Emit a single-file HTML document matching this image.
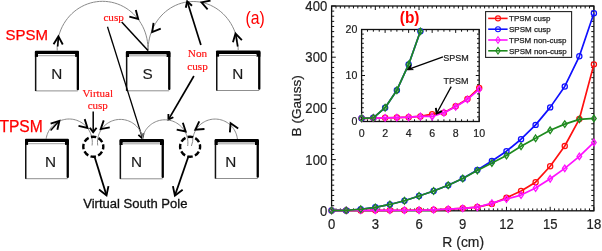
<!DOCTYPE html>
<html><head><meta charset="utf-8"><title>SPSM TPSM figure</title>
<style>html,body{margin:0;padding:0;background:#fff;overflow:hidden}svg{display:block}</style>
</head><body>
<svg width="602" height="251" viewBox="0 0 602 251">
<rect width="602" height="251" fill="#fff"/>
<rect x="34.9" y="50.8" width="44.1" height="40.6" fill="#fff" stroke="none"/>
<line x1="35.5" y1="90.9" x2="77.8" y2="90.9" stroke="#8f8f8f" stroke-width="1.0"/>
<rect x="34.9" y="51.8" width="1.5" height="39.2" fill="#111"/>
<rect x="76.7" y="51.8" width="2.3" height="38.4" rx="1" fill="#000"/>
<rect x="34.9" y="50.8" width="44.1" height="3.3" fill="#000" rx="1"/>
<rect x="34.9" y="53.3" width="3.1" height="3.6" fill="#000"/>
<rect x="75.1" y="53.3" width="3.9" height="3.6" fill="#000"/>
<line x1="38" y1="55.7" x2="75.1" y2="55.7" stroke="#a0a0a0" stroke-width="1.0"/>
<text x="56.8" y="79" font-family='"Liberation Sans", Arial, sans-serif' font-size="15.3" fill="#1a1a1a" text-anchor="middle" font-weight="normal" stroke="#1a1a1a" stroke-width="0.15">N</text>
<rect x="125.9" y="50.9" width="44.5" height="40.4" fill="#fff" stroke="none"/>
<line x1="126.5" y1="90.8" x2="169.2" y2="90.8" stroke="#8f8f8f" stroke-width="1.0"/>
<rect x="125.9" y="51.9" width="1.5" height="39" fill="#111"/>
<rect x="168.1" y="51.9" width="2.3" height="38.2" rx="1" fill="#000"/>
<rect x="125.9" y="50.9" width="44.5" height="3.3" fill="#000" rx="1"/>
<rect x="125.9" y="53.4" width="3.1" height="3.6" fill="#000"/>
<rect x="166.5" y="53.4" width="3.9" height="3.6" fill="#000"/>
<line x1="129" y1="55.8" x2="166.5" y2="55.8" stroke="#a0a0a0" stroke-width="1.0"/>
<text x="147.6" y="79.1" font-family='"Liberation Sans", Arial, sans-serif' font-size="15.3" fill="#1a1a1a" text-anchor="middle" font-weight="normal" stroke="#1a1a1a" stroke-width="0.15">S</text>
<rect x="216" y="50.6" width="44.4" height="40.4" fill="#fff" stroke="none"/>
<line x1="216.6" y1="90.5" x2="259.2" y2="90.5" stroke="#8f8f8f" stroke-width="1.0"/>
<rect x="216" y="51.6" width="1.5" height="39" fill="#111"/>
<rect x="258.1" y="51.6" width="2.3" height="38.2" rx="1" fill="#000"/>
<rect x="216" y="50.6" width="44.4" height="3.3" fill="#000" rx="1"/>
<rect x="216" y="53.1" width="3.1" height="3.6" fill="#000"/>
<rect x="256.5" y="53.1" width="3.9" height="3.6" fill="#000"/>
<line x1="219.1" y1="55.5" x2="256.5" y2="55.5" stroke="#a0a0a0" stroke-width="1.0"/>
<text x="237.9" y="78.8" font-family='"Liberation Sans", Arial, sans-serif' font-size="15.3" fill="#1a1a1a" text-anchor="middle" font-weight="normal" stroke="#1a1a1a" stroke-width="0.15">N</text>
<rect x="25" y="138.8" width="43.9" height="40.4" fill="#fff" stroke="none"/>
<line x1="25.6" y1="178.7" x2="67.7" y2="178.7" stroke="#8f8f8f" stroke-width="1.0"/>
<rect x="25" y="139.8" width="1.5" height="39" fill="#111"/>
<rect x="66.6" y="139.8" width="2.3" height="38.2" rx="1" fill="#000"/>
<rect x="25" y="138.8" width="43.9" height="3.3" fill="#000" rx="1"/>
<rect x="25" y="141.3" width="3.1" height="3.6" fill="#000"/>
<rect x="65" y="141.3" width="3.9" height="3.6" fill="#000"/>
<line x1="28.1" y1="143.7" x2="65" y2="143.7" stroke="#a0a0a0" stroke-width="1.0"/>
<text x="50.5" y="167" font-family='"Liberation Sans", Arial, sans-serif' font-size="15.3" fill="#1a1a1a" text-anchor="middle" font-weight="normal" stroke="#1a1a1a" stroke-width="0.15">N</text>
<rect x="119.6" y="138.9" width="44.3" height="40.4" fill="#fff" stroke="none"/>
<line x1="120.2" y1="178.8" x2="162.7" y2="178.8" stroke="#8f8f8f" stroke-width="1.0"/>
<rect x="119.6" y="139.9" width="1.5" height="39" fill="#111"/>
<rect x="161.6" y="139.9" width="2.3" height="38.2" rx="1" fill="#000"/>
<rect x="119.6" y="138.9" width="44.3" height="3.3" fill="#000" rx="1"/>
<rect x="119.6" y="141.4" width="3.1" height="3.6" fill="#000"/>
<rect x="160" y="141.4" width="3.9" height="3.6" fill="#000"/>
<line x1="122.7" y1="143.8" x2="160" y2="143.8" stroke="#a0a0a0" stroke-width="1.0"/>
<text x="136.6" y="167.1" font-family='"Liberation Sans", Arial, sans-serif' font-size="15.3" fill="#1a1a1a" text-anchor="middle" font-weight="normal" stroke="#1a1a1a" stroke-width="0.15">N</text>
<rect x="214.7" y="138.9" width="44.2" height="40.1" fill="#fff" stroke="none"/>
<line x1="215.3" y1="178.5" x2="257.7" y2="178.5" stroke="#8f8f8f" stroke-width="1.0"/>
<rect x="214.7" y="139.9" width="1.5" height="38.7" fill="#111"/>
<rect x="256.6" y="139.9" width="2.3" height="37.9" rx="1" fill="#000"/>
<rect x="214.7" y="138.9" width="44.2" height="3.3" fill="#000" rx="1"/>
<rect x="214.7" y="141.4" width="3.1" height="3.6" fill="#000"/>
<rect x="255" y="141.4" width="3.9" height="3.6" fill="#000"/>
<line x1="217.8" y1="143.8" x2="255" y2="143.8" stroke="#a0a0a0" stroke-width="1.0"/>
<text x="230.9" y="167.1" font-family='"Liberation Sans", Arial, sans-serif' font-size="15.3" fill="#1a1a1a" text-anchor="middle" font-weight="normal" stroke="#1a1a1a" stroke-width="0.15">N</text>
<path d="M57.23,50.82 L57.16,47.64 L57.31,44.47 L57.66,41.31 L58.22,38.18 L58.98,35.1 L59.94,32.08 L61.1,29.14 L62.44,26.28 L63.97,23.52 L65.68,20.88 L67.55,18.36 L69.59,15.98 L71.78,13.74 L74.1,11.67 L76.56,9.76 L79.14,8.03 L81.82,6.49 L84.6,5.13 L87.46,3.98 L90.39,3.02 L93.37,2.28 L96.4,1.74 L99.45,1.42 L102.52,1.31 L105.59,1.42 L108.64,1.74 L111.67,2.28 L114.65,3.02 L117.58,3.98 L120.44,5.13 L123.22,6.49 L125.9,8.03 L128.48,9.76 L130.94,11.67 L133.26,13.74 L135.45,15.98 L137.49,18.36 L139.36,20.88 L141.07,23.52 L142.6,26.28 L143.94,29.14 L145.1,32.08 L146.06,35.1 L146.82,38.18 L147.38,41.31 L147.73,44.47 L147.88,47.64 L147.81,50.82" fill="none" stroke="#8a8a8a" stroke-width="1"/>
<path d="M148.11,50.81 L148.16,47.6 L148.41,44.41 L148.85,41.24 L149.49,38.1 L150.31,35.02 L151.33,32 L152.53,29.07 L153.9,26.22 L155.45,23.48 L157.16,20.85 L159.03,18.36 L161.05,16 L163.2,13.79 L165.49,11.73 L167.9,9.85 L170.42,8.14 L173.04,6.61 L175.75,5.28 L178.53,4.14 L181.38,3.2 L184.27,2.46 L187.21,1.93 L190.17,1.62 L193.15,1.51 L196.13,1.62 L199.09,1.93 L202.03,2.46 L204.92,3.2 L207.77,4.14 L210.55,5.28 L213.26,6.61 L215.88,8.14 L218.4,9.85 L220.81,11.73 L223.1,13.79 L225.25,16 L227.27,18.36 L229.14,20.85 L230.85,23.48 L232.4,26.22 L233.77,29.07 L234.97,32 L235.99,35.02 L236.81,38.1 L237.45,41.24 L237.89,44.41 L238.14,47.6 L238.19,50.81" fill="none" stroke="#8a8a8a" stroke-width="1"/>
<line x1="57.7" y1="46.5" x2="58.4" y2="37.5" stroke="#000" stroke-width="1.6"/>
<line x1="237.7" y1="46.5" x2="235.8" y2="35" stroke="#000" stroke-width="1.6"/>
<path d="M53.56,44.23 L58.4,36.4 L62.76,44.5" fill="none" stroke="#000" stroke-width="1.85" stroke-linejoin="miter" stroke-linecap="butt"/>
<path d="M135.82,10.01 L138.2,18.9 L129.31,16.52" fill="none" stroke="#000" stroke-width="1.85" stroke-linejoin="miter" stroke-linecap="butt"/>
<path d="M160.75,28.6 L152.2,32 L153.53,22.9" fill="none" stroke="#000" stroke-width="1.85" stroke-linejoin="miter" stroke-linecap="butt"/>
<path d="M207.61,9.28 L201.5,2.4 L210.51,0.55" fill="none" stroke="#000" stroke-width="1.85" stroke-linejoin="miter" stroke-linecap="butt"/>
<path d="M232.95,42.34 L235.5,33.5 L241.88,40.13" fill="none" stroke="#000" stroke-width="1.85" stroke-linejoin="miter" stroke-linecap="butt"/>
<text x="103.4" y="20.6" font-family='"Liberation Serif", "Times New Roman", serif' font-size="11.2" fill="#ff1010" text-anchor="start" font-weight="normal" stroke="#ff1010" stroke-width="0.15">cusp</text>
<line x1="121.7" y1="21.9" x2="148" y2="50.4" stroke="#000" stroke-width="1.5"/>
<line x1="107.5" y1="26.8" x2="142.3" y2="137.6" stroke="#000" stroke-width="1.3"/>
<path d="M143.62,133.27 L142.3,138.3 L138.36,134.91" fill="none" stroke="#000" stroke-width="1.8" stroke-linejoin="miter" stroke-linecap="butt"/>
<text x="197.5" y="57" font-family='"Liberation Serif", "Times New Roman", serif' font-size="11.2" fill="#ff1010" text-anchor="middle" font-weight="normal" stroke="#ff1010" stroke-width="0.15">Non</text>
<text x="197.5" y="70.2" font-family='"Liberation Serif", "Times New Roman", serif' font-size="11.2" fill="#ff1010" text-anchor="middle" font-weight="normal" stroke="#ff1010" stroke-width="0.15">cusp</text>
<line x1="200.9" y1="45" x2="187.4" y2="2" stroke="#000" stroke-width="1.7"/>
<path d="M185.79,7.74 L187.2,1.4 L191.99,5.79" fill="none" stroke="#000" stroke-width="1.9" stroke-linejoin="miter" stroke-linecap="butt"/>
<line x1="193.9" y1="76" x2="168.6" y2="119.4" stroke="#000" stroke-width="1.7"/>
<path d="M173.35,117.2 L168.4,119.6 L168.41,114.1" fill="none" stroke="#000" stroke-width="1.8" stroke-linejoin="miter" stroke-linecap="butt"/>
<text x="5.6" y="39.7" font-family='"Liberation Sans", Arial, sans-serif' font-size="15" fill="#ff0000" text-anchor="start" font-weight="normal" stroke="#ff0000" stroke-width="0.25">SPSM</text>
<text x="-0.6" y="131.5" font-family='"Liberation Sans", Arial, sans-serif' font-size="15.6" fill="#ff0000" text-anchor="start" font-weight="normal" stroke="#ff0000" stroke-width="0.25">TPSM</text>
<text transform="translate(255.1,23.6) scale(0.9,1)" font-family='"Liberation Sans", Arial, sans-serif' font-size="17.5" fill="#ff0000" text-anchor="middle">(a)</text>
<path d="M46.12,139.01 L46.38,137.51 L46.73,136.03 L47.19,134.58 L47.73,133.16 L48.37,131.78 L49.1,130.45 L49.91,129.16 L50.81,127.93 L51.78,126.76 L52.83,125.66 L53.95,124.63 L55.13,123.68 L56.37,122.8 L57.67,122.01 L59.02,121.3 L60.41,120.69 L61.84,120.17 L63.3,119.74 L64.78,119.41 L66.28,119.17 L67.8,119.04 L69.32,119 L70.84,119.07 L72.35,119.23 L73.85,119.49 L75.32,119.85 L76.78,120.31 L78.19,120.86 L79.57,121.5 L80.91,122.23 L82.19,123.04 L83.42,123.94 L84.58,124.92 L85.68,125.97 L86.71,127.09 L87.66,128.28 L88.53,129.52 L89.32,130.82 L90.02,132.17 L90.63,133.57 L91.15,134.99 L91.58,136.45 L91.91,137.94 L92.14,139.44 L92.27,140.96 L92.3,142.48 L92.23,144 L92.06,145.51" fill="none" stroke="#8a8a8a" stroke-width="1"/>
<path d="M97.74,145.49 L97.57,144.01 L97.5,142.52 L97.53,141.02 L97.66,139.53 L97.88,138.06 L98.2,136.6 L98.61,135.16 L99.12,133.76 L99.72,132.39 L100.41,131.06 L101.18,129.78 L102.03,128.56 L102.96,127.39 L103.97,126.29 L105.05,125.25 L106.19,124.29 L107.39,123.41 L108.65,122.6 L109.96,121.88 L111.31,121.25 L112.7,120.7 L114.13,120.25 L115.58,119.89 L117.05,119.63 L118.53,119.47 L120.02,119.4 L121.52,119.43 L123.01,119.56 L124.48,119.79 L125.94,120.11 L127.38,120.53 L128.78,121.04 L130.15,121.64 L131.47,122.32 L132.75,123.1 L133.97,123.96 L135.14,124.89 L136.24,125.9 L137.27,126.98 L138.23,128.12 L139.12,129.33 L139.92,130.59 L140.64,131.89 L141.27,133.25 L141.81,134.64 L142.26,136.07 L142.61,137.52 L142.87,138.99" fill="none" stroke="#8a8a8a" stroke-width="1"/>
<path d="M142.22,139 L142.51,137.54 L142.9,136.1 L143.38,134.69 L143.95,133.31 L144.61,131.97 L145.36,130.68 L146.18,129.43 L147.09,128.25 L148.07,127.12 L149.12,126.06 L150.24,125.08 L151.42,124.16 L152.66,123.33 L153.95,122.58 L155.28,121.91 L156.66,121.33 L158.07,120.84 L159.51,120.44 L160.97,120.14 L162.45,119.93 L163.93,119.82 L165.43,119.81 L166.92,119.89 L168.4,120.07 L169.87,120.34 L171.31,120.71 L172.73,121.17 L174.12,121.73 L175.46,122.37 L176.77,123.1 L178.02,123.91 L179.22,124.8 L180.36,125.77 L181.43,126.8 L182.43,127.91 L183.36,129.08 L184.21,130.3 L184.98,131.58 L185.66,132.91 L186.26,134.28 L186.77,135.68 L187.19,137.11 L187.51,138.57 L187.73,140.05 L187.87,141.53 L187.9,143.03 L187.84,144.52 L187.68,146" fill="none" stroke="#8a8a8a" stroke-width="1"/>
<path d="M191.4,146 L192.65,141.5 L192.69,140.08 L192.83,138.67 L193.05,137.27 L193.36,135.89 L193.76,134.53 L194.24,133.2 L194.81,131.9 L195.45,130.64 L196.18,129.42 L196.98,128.25 L197.85,127.13 L198.79,126.07 L199.79,125.08 L200.86,124.14 L201.98,123.28 L203.16,122.49 L204.38,121.77 L205.65,121.14 L206.95,120.58 L208.29,120.11 L209.65,119.72 L211.03,119.42 L212.44,119.21 L213.85,119.09 L215.26,119.05 L216.68,119.11 L218.09,119.25 L219.49,119.48 L220.87,119.8 L222.22,120.21 L223.55,120.7 L224.85,121.28 L226.1,121.93 L227.32,122.66 L228.48,123.47 L229.59,124.35 L230.64,125.3 L231.63,126.31 L232.56,127.39 L233.41,128.52 L234.2,129.7 L234.9,130.93 L235.53,132.2 L236.08,133.5 L236.54,134.84 L236.92,136.21 L237.21,137.6 L237.41,139" fill="none" stroke="#8a8a8a" stroke-width="1"/>
<line x1="50.6" y1="130.4" x2="58" y2="122.3" stroke="#000" stroke-width="1.5"/>
<path d="M50.62,123.54 L59.4,120.8 L57.38,129.78" fill="none" stroke="#000" stroke-width="1.85" stroke-linejoin="miter" stroke-linecap="butt"/>
<path d="M84.69,119.14 L87.5,127.9 L78.51,125.96" fill="none" stroke="#000" stroke-width="1.85" stroke-linejoin="miter" stroke-linecap="butt"/>
<path d="M109.74,127.38 L100.7,129.1 L103.73,120.41" fill="none" stroke="#000" stroke-width="1.85" stroke-linejoin="miter" stroke-linecap="butt"/>
<path d="M182.84,122.76 L185.7,131.5 L176.7,129.61" fill="none" stroke="#000" stroke-width="1.85" stroke-linejoin="miter" stroke-linecap="butt"/>
<path d="M204.47,128.97 L195.3,129.7 L199.26,121.39" fill="none" stroke="#000" stroke-width="1.85" stroke-linejoin="miter" stroke-linecap="butt"/>
<path d="M229.88,132.37 L230.6,123.2 L238.19,128.41" fill="none" stroke="#000" stroke-width="1.85" stroke-linejoin="miter" stroke-linecap="butt"/>
<text x="97.8" y="96.8" font-family='"Liberation Serif", "Times New Roman", serif' font-size="11" fill="#ff1010" text-anchor="middle" font-weight="normal" stroke="#ff1010" stroke-width="0.15">Virtual</text>
<text x="97.8" y="109.4" font-family='"Liberation Serif", "Times New Roman", serif' font-size="11" fill="#ff1010" text-anchor="middle" font-weight="normal" stroke="#ff1010" stroke-width="0.15">cusp</text>
<line x1="93.2" y1="111.5" x2="93.2" y2="132.2" stroke="#000" stroke-width="1.5"/>
<path d="M96.59,127.77 L93.2,132.1 L89.81,127.77" fill="none" stroke="#000" stroke-width="1.9" stroke-linejoin="miter" stroke-linecap="butt"/>
<circle cx="93.3" cy="146.7" r="10" fill="none" stroke="#000" stroke-width="2.4" stroke-dasharray="5.5 2.35" stroke-dashoffset="2.75"/>
<circle cx="190.1" cy="146.7" r="10" fill="none" stroke="#000" stroke-width="2.4" stroke-dasharray="5.5 2.35" stroke-dashoffset="2.75"/>
<line x1="94.5" y1="156.5" x2="106.4" y2="195" stroke="#000" stroke-width="1.8"/>
<path d="M108.46,186.1 L106.5,195.4 L99,189.57" fill="none" stroke="#000" stroke-width="1.85" stroke-linejoin="miter" stroke-linecap="butt"/>
<line x1="188.4" y1="156.5" x2="175" y2="195.3" stroke="#000" stroke-width="1.8"/>
<path d="M182.65,189.71 L174.9,195.7 L172.91,186.1" fill="none" stroke="#000" stroke-width="1.85" stroke-linejoin="miter" stroke-linecap="butt"/>
<text x="135.3" y="208" font-family='"Liberation Sans", Arial, sans-serif' font-size="13.05" fill="#111" text-anchor="middle" font-weight="normal" stroke="#111" stroke-width="0.3">Virtual South Pole</text>
<rect x="331.6" y="6.0" width="262.3" height="204.8" fill="#fff" stroke="#111" stroke-width="1.3"/>
<path d="M331.6,210.8h4.2M593.9,210.8h-4.2M331.6,205.68h2.6M593.9,205.68h-2.6M331.6,200.56h2.6M593.9,200.56h-2.6M331.6,195.44h2.6M593.9,195.44h-2.6M331.6,190.32h2.6M593.9,190.32h-2.6M331.6,185.2h2.6M593.9,185.2h-2.6M331.6,180.08h2.6M593.9,180.08h-2.6M331.6,174.96h2.6M593.9,174.96h-2.6M331.6,169.84h2.6M593.9,169.84h-2.6M331.6,164.72h2.6M593.9,164.72h-2.6M331.6,159.6h4.2M593.9,159.6h-4.2M331.6,154.48h2.6M593.9,154.48h-2.6M331.6,149.36h2.6M593.9,149.36h-2.6M331.6,144.24h2.6M593.9,144.24h-2.6M331.6,139.12h2.6M593.9,139.12h-2.6M331.6,134h2.6M593.9,134h-2.6M331.6,128.88h2.6M593.9,128.88h-2.6M331.6,123.76h2.6M593.9,123.76h-2.6M331.6,118.64h2.6M593.9,118.64h-2.6M331.6,113.52h2.6M593.9,113.52h-2.6M331.6,108.4h4.2M593.9,108.4h-4.2M331.6,103.28h2.6M593.9,103.28h-2.6M331.6,98.16h2.6M593.9,98.16h-2.6M331.6,93.04h2.6M593.9,93.04h-2.6M331.6,87.92h2.6M593.9,87.92h-2.6M331.6,82.8h2.6M593.9,82.8h-2.6M331.6,77.68h2.6M593.9,77.68h-2.6M331.6,72.56h2.6M593.9,72.56h-2.6M331.6,67.44h2.6M593.9,67.44h-2.6M331.6,62.32h2.6M593.9,62.32h-2.6M331.6,57.2h4.2M593.9,57.2h-4.2M331.6,52.08h2.6M593.9,52.08h-2.6M331.6,46.96h2.6M593.9,46.96h-2.6M331.6,41.84h2.6M593.9,41.84h-2.6M331.6,36.72h2.6M593.9,36.72h-2.6M331.6,31.6h2.6M593.9,31.6h-2.6M331.6,26.48h2.6M593.9,26.48h-2.6M331.6,21.36h2.6M593.9,21.36h-2.6M331.6,16.24h2.6M593.9,16.24h-2.6M331.6,11.12h2.6M593.9,11.12h-2.6M331.6,6h4.2M593.9,6h-4.2M331.6,210.8v-4.0M331.6,6v4.0M335.97,210.8v-2.4M335.97,6v2.4M340.34,210.8v-2.4M340.34,6v2.4M344.72,210.8v-2.4M344.72,6v2.4M349.09,210.8v-2.4M349.09,6v2.4M353.46,210.8v-2.4M353.46,6v2.4M357.83,210.8v-2.4M357.83,6v2.4M362.2,210.8v-2.4M362.2,6v2.4M366.57,210.8v-2.4M366.57,6v2.4M370.94,210.8v-2.4M370.94,6v2.4M375.32,210.8v-4.0M375.32,6v4.0M379.69,210.8v-2.4M379.69,6v2.4M384.06,210.8v-2.4M384.06,6v2.4M388.43,210.8v-2.4M388.43,6v2.4M392.8,210.8v-2.4M392.8,6v2.4M397.18,210.8v-2.4M397.18,6v2.4M401.55,210.8v-2.4M401.55,6v2.4M405.92,210.8v-2.4M405.92,6v2.4M410.29,210.8v-2.4M410.29,6v2.4M414.66,210.8v-2.4M414.66,6v2.4M419.03,210.8v-4.0M419.03,6v4.0M423.4,210.8v-2.4M423.4,6v2.4M427.78,210.8v-2.4M427.78,6v2.4M432.15,210.8v-2.4M432.15,6v2.4M436.52,210.8v-2.4M436.52,6v2.4M440.89,210.8v-2.4M440.89,6v2.4M445.26,210.8v-2.4M445.26,6v2.4M449.63,210.8v-2.4M449.63,6v2.4M454.01,210.8v-2.4M454.01,6v2.4M458.38,210.8v-2.4M458.38,6v2.4M462.75,210.8v-4.0M462.75,6v4.0M467.12,210.8v-2.4M467.12,6v2.4M471.49,210.8v-2.4M471.49,6v2.4M475.87,210.8v-2.4M475.87,6v2.4M480.24,210.8v-2.4M480.24,6v2.4M484.61,210.8v-2.4M484.61,6v2.4M488.98,210.8v-2.4M488.98,6v2.4M493.35,210.8v-2.4M493.35,6v2.4M497.72,210.8v-2.4M497.72,6v2.4M502.1,210.8v-2.4M502.1,6v2.4M506.47,210.8v-4.0M506.47,6v4.0M510.84,210.8v-2.4M510.84,6v2.4M515.21,210.8v-2.4M515.21,6v2.4M519.58,210.8v-2.4M519.58,6v2.4M523.95,210.8v-2.4M523.95,6v2.4M528.33,210.8v-2.4M528.33,6v2.4M532.7,210.8v-2.4M532.7,6v2.4M537.07,210.8v-2.4M537.07,6v2.4M541.44,210.8v-2.4M541.44,6v2.4M545.81,210.8v-2.4M545.81,6v2.4M550.18,210.8v-4.0M550.18,6v4.0M554.55,210.8v-2.4M554.55,6v2.4M558.93,210.8v-2.4M558.93,6v2.4M563.3,210.8v-2.4M563.3,6v2.4M567.67,210.8v-2.4M567.67,6v2.4M572.04,210.8v-2.4M572.04,6v2.4M576.41,210.8v-2.4M576.41,6v2.4M580.78,210.8v-2.4M580.78,6v2.4M585.16,210.8v-2.4M585.16,6v2.4M589.53,210.8v-2.4M589.53,6v2.4M593.9,210.8v-4.0M593.9,6v4.0" stroke="#111" stroke-width="1" fill="none"/>
<text transform="translate(327.2,215.7) scale(1,1.11)" font-family='"Liberation Sans", Arial, sans-serif' font-size="13.1" fill="#222" stroke="#222" stroke-width="0.2" text-anchor="end">0</text>
<text transform="translate(327.2,164.5) scale(1,1.11)" font-family='"Liberation Sans", Arial, sans-serif' font-size="13.1" fill="#222" stroke="#222" stroke-width="0.2" text-anchor="end">100</text>
<text transform="translate(327.2,113.3) scale(1,1.11)" font-family='"Liberation Sans", Arial, sans-serif' font-size="13.1" fill="#222" stroke="#222" stroke-width="0.2" text-anchor="end">200</text>
<text transform="translate(327.2,62.1) scale(1,1.11)" font-family='"Liberation Sans", Arial, sans-serif' font-size="13.1" fill="#222" stroke="#222" stroke-width="0.2" text-anchor="end">300</text>
<text transform="translate(327.2,10.9) scale(1,1.11)" font-family='"Liberation Sans", Arial, sans-serif' font-size="13.1" fill="#222" stroke="#222" stroke-width="0.2" text-anchor="end">400</text>
<text transform="translate(331.6,229.2) scale(1,1.08)" font-family='"Liberation Sans", Arial, sans-serif' font-size="13.1" fill="#222" stroke="#222" stroke-width="0.2" text-anchor="middle">0</text>
<text transform="translate(375.32,229.2) scale(1,1.08)" font-family='"Liberation Sans", Arial, sans-serif' font-size="13.1" fill="#222" stroke="#222" stroke-width="0.2" text-anchor="middle">3</text>
<text transform="translate(419.03,229.2) scale(1,1.08)" font-family='"Liberation Sans", Arial, sans-serif' font-size="13.1" fill="#222" stroke="#222" stroke-width="0.2" text-anchor="middle">6</text>
<text transform="translate(462.75,229.2) scale(1,1.08)" font-family='"Liberation Sans", Arial, sans-serif' font-size="13.1" fill="#222" stroke="#222" stroke-width="0.2" text-anchor="middle">9</text>
<text transform="translate(506.47,229.2) scale(1,1.08)" font-family='"Liberation Sans", Arial, sans-serif' font-size="13.1" fill="#222" stroke="#222" stroke-width="0.2" text-anchor="middle">12</text>
<text transform="translate(550.18,229.2) scale(1,1.08)" font-family='"Liberation Sans", Arial, sans-serif' font-size="13.1" fill="#222" stroke="#222" stroke-width="0.2" text-anchor="middle">15</text>
<text transform="translate(593.9,229.2) scale(1,1.08)" font-family='"Liberation Sans", Arial, sans-serif' font-size="13.1" fill="#222" stroke="#222" stroke-width="0.2" text-anchor="middle">18</text>
<text x="463.2" y="247.3" font-family='"Liberation Sans", Arial, sans-serif' font-size="13.9" fill="#222" text-anchor="middle" font-weight="normal" stroke="#222" stroke-width="0.2">R (cm)</text>
<text transform="translate(300.6,105.8) rotate(-90)" font-family='"Liberation Sans", Arial, sans-serif' font-size="13.6" fill="#222" stroke="#222" stroke-width="0.2" text-anchor="middle">B (Gauss)</text>
<text transform="translate(409.6,23.1) scale(0.92,1)" font-family='"Liberation Sans", Arial, sans-serif' font-size="16.8" font-weight="bold" fill="#ff0000" text-anchor="middle">(b)</text>
<defs><clipPath id="cm"><rect x="327.6" y="2.0" width="270.3" height="212.8"/></clipPath><clipPath id="ci"><rect x="357.6" y="25.5" width="125.6" height="100"/></clipPath></defs>
<g clip-path="url(#cm)">
<path d="M331.6,210.44 L346.17,210.42 L360.74,210.39 L375.32,210.36 L389.89,210.32 L404.46,210.24 L419.03,209.98 L433.61,209.83 L448.18,209.11 L462.75,208.29 L477.32,207.06 L491.89,203.89 L506.47,197.8 L521.04,191.09 L535.61,182.18 L550.18,166.26 L564.76,145.98 L579.33,119.05 L593.9,64.37" fill="none" stroke="#ff1010" stroke-width="1.7" stroke-linejoin="round"/>
<circle cx="331.6" cy="210.44" r="2.6" fill="none" stroke="#ff1010" stroke-width="1.25"/>
<circle cx="346.17" cy="210.42" r="2.6" fill="none" stroke="#ff1010" stroke-width="1.25"/>
<circle cx="360.74" cy="210.39" r="2.6" fill="none" stroke="#ff1010" stroke-width="1.25"/>
<circle cx="375.32" cy="210.36" r="2.6" fill="none" stroke="#ff1010" stroke-width="1.25"/>
<circle cx="389.89" cy="210.32" r="2.6" fill="none" stroke="#ff1010" stroke-width="1.25"/>
<circle cx="404.46" cy="210.24" r="2.6" fill="none" stroke="#ff1010" stroke-width="1.25"/>
<circle cx="419.03" cy="209.98" r="2.6" fill="none" stroke="#ff1010" stroke-width="1.25"/>
<circle cx="433.61" cy="209.83" r="2.6" fill="none" stroke="#ff1010" stroke-width="1.25"/>
<circle cx="448.18" cy="209.11" r="2.6" fill="none" stroke="#ff1010" stroke-width="1.25"/>
<circle cx="462.75" cy="208.29" r="2.6" fill="none" stroke="#ff1010" stroke-width="1.25"/>
<circle cx="477.32" cy="207.06" r="2.6" fill="none" stroke="#ff1010" stroke-width="1.25"/>
<circle cx="491.89" cy="203.89" r="2.6" fill="none" stroke="#ff1010" stroke-width="1.25"/>
<circle cx="506.47" cy="197.8" r="2.6" fill="none" stroke="#ff1010" stroke-width="1.25"/>
<circle cx="521.04" cy="191.09" r="2.6" fill="none" stroke="#ff1010" stroke-width="1.25"/>
<circle cx="535.61" cy="182.18" r="2.6" fill="none" stroke="#ff1010" stroke-width="1.25"/>
<circle cx="550.18" cy="166.26" r="2.6" fill="none" stroke="#ff1010" stroke-width="1.25"/>
<circle cx="564.76" cy="145.98" r="2.6" fill="none" stroke="#ff1010" stroke-width="1.25"/>
<circle cx="579.33" cy="119.05" r="2.6" fill="none" stroke="#ff1010" stroke-width="1.25"/>
<circle cx="593.9" cy="64.37" r="2.6" fill="none" stroke="#ff1010" stroke-width="1.25"/>
<path d="M331.6,210.44 L346.17,210.39 L360.74,209.26 L375.32,207.32 L389.89,204.45 L404.46,200.76 L419.03,195.95 L433.61,190.99 L448.18,185.2 L462.75,178.44 L477.32,169.94 L491.89,160.93 L506.47,151.2 L521.04,139.22 L535.61,124.89 L550.18,107.38 L564.76,86.44 L579.33,56.33 L593.9,13.17" fill="none" stroke="#1010ff" stroke-width="1.7" stroke-linejoin="round"/>
<circle cx="331.6" cy="210.44" r="2.6" fill="none" stroke="#1010ff" stroke-width="1.25"/>
<circle cx="346.17" cy="210.39" r="2.6" fill="none" stroke="#1010ff" stroke-width="1.25"/>
<circle cx="360.74" cy="209.26" r="2.6" fill="none" stroke="#1010ff" stroke-width="1.25"/>
<circle cx="375.32" cy="207.32" r="2.6" fill="none" stroke="#1010ff" stroke-width="1.25"/>
<circle cx="389.89" cy="204.45" r="2.6" fill="none" stroke="#1010ff" stroke-width="1.25"/>
<circle cx="404.46" cy="200.76" r="2.6" fill="none" stroke="#1010ff" stroke-width="1.25"/>
<circle cx="419.03" cy="195.95" r="2.6" fill="none" stroke="#1010ff" stroke-width="1.25"/>
<circle cx="433.61" cy="190.99" r="2.6" fill="none" stroke="#1010ff" stroke-width="1.25"/>
<circle cx="448.18" cy="185.2" r="2.6" fill="none" stroke="#1010ff" stroke-width="1.25"/>
<circle cx="462.75" cy="178.44" r="2.6" fill="none" stroke="#1010ff" stroke-width="1.25"/>
<circle cx="477.32" cy="169.94" r="2.6" fill="none" stroke="#1010ff" stroke-width="1.25"/>
<circle cx="491.89" cy="160.93" r="2.6" fill="none" stroke="#1010ff" stroke-width="1.25"/>
<circle cx="506.47" cy="151.2" r="2.6" fill="none" stroke="#1010ff" stroke-width="1.25"/>
<circle cx="521.04" cy="139.22" r="2.6" fill="none" stroke="#1010ff" stroke-width="1.25"/>
<circle cx="535.61" cy="124.89" r="2.6" fill="none" stroke="#1010ff" stroke-width="1.25"/>
<circle cx="550.18" cy="107.38" r="2.6" fill="none" stroke="#1010ff" stroke-width="1.25"/>
<circle cx="564.76" cy="86.44" r="2.6" fill="none" stroke="#1010ff" stroke-width="1.25"/>
<circle cx="579.33" cy="56.33" r="2.6" fill="none" stroke="#1010ff" stroke-width="1.25"/>
<circle cx="593.9" cy="13.17" r="2.6" fill="none" stroke="#1010ff" stroke-width="1.25"/>
<path d="M331.6,210.44 L346.17,210.42 L360.74,210.39 L375.32,210.36 L389.89,210.32 L404.46,210.24 L419.03,210.24 L433.61,209.83 L448.18,209.16 L462.75,208.34 L477.32,207.22 L491.89,203.17 L506.47,199.02 L521.04,195.08 L535.61,188.02 L550.18,178.8 L564.76,168.36 L579.33,156.43 L593.9,142.45" fill="none" stroke="#ff10ff" stroke-width="1.7" stroke-linejoin="round"/>
<path d="M331.6,207.14 L333.9,210.44 L331.6,213.74 L329.3,210.44Z" fill="none" stroke="#ff10ff" stroke-width="1.3"/>
<path d="M346.17,207.12 L348.47,210.42 L346.17,213.72 L343.87,210.42Z" fill="none" stroke="#ff10ff" stroke-width="1.3"/>
<path d="M360.74,207.09 L363.04,210.39 L360.74,213.69 L358.44,210.39Z" fill="none" stroke="#ff10ff" stroke-width="1.3"/>
<path d="M375.32,207.06 L377.62,210.36 L375.32,213.66 L373.02,210.36Z" fill="none" stroke="#ff10ff" stroke-width="1.3"/>
<path d="M389.89,207.02 L392.19,210.32 L389.89,213.62 L387.59,210.32Z" fill="none" stroke="#ff10ff" stroke-width="1.3"/>
<path d="M404.46,206.94 L406.76,210.24 L404.46,213.54 L402.16,210.24Z" fill="none" stroke="#ff10ff" stroke-width="1.3"/>
<path d="M419.03,206.94 L421.33,210.24 L419.03,213.54 L416.73,210.24Z" fill="none" stroke="#ff10ff" stroke-width="1.3"/>
<path d="M433.61,206.53 L435.91,209.83 L433.61,213.13 L431.31,209.83Z" fill="none" stroke="#ff10ff" stroke-width="1.3"/>
<path d="M448.18,205.86 L450.48,209.16 L448.18,212.46 L445.88,209.16Z" fill="none" stroke="#ff10ff" stroke-width="1.3"/>
<path d="M462.75,205.04 L465.05,208.34 L462.75,211.64 L460.45,208.34Z" fill="none" stroke="#ff10ff" stroke-width="1.3"/>
<path d="M477.32,203.92 L479.62,207.22 L477.32,210.52 L475.02,207.22Z" fill="none" stroke="#ff10ff" stroke-width="1.3"/>
<path d="M491.89,199.87 L494.19,203.17 L491.89,206.47 L489.59,203.17Z" fill="none" stroke="#ff10ff" stroke-width="1.3"/>
<path d="M506.47,195.72 L508.77,199.02 L506.47,202.32 L504.17,199.02Z" fill="none" stroke="#ff10ff" stroke-width="1.3"/>
<path d="M521.04,191.78 L523.34,195.08 L521.04,198.38 L518.74,195.08Z" fill="none" stroke="#ff10ff" stroke-width="1.3"/>
<path d="M535.61,184.72 L537.91,188.02 L535.61,191.32 L533.31,188.02Z" fill="none" stroke="#ff10ff" stroke-width="1.3"/>
<path d="M550.18,175.5 L552.48,178.8 L550.18,182.1 L547.88,178.8Z" fill="none" stroke="#ff10ff" stroke-width="1.3"/>
<path d="M564.76,165.06 L567.06,168.36 L564.76,171.66 L562.46,168.36Z" fill="none" stroke="#ff10ff" stroke-width="1.3"/>
<path d="M579.33,153.13 L581.63,156.43 L579.33,159.73 L577.03,156.43Z" fill="none" stroke="#ff10ff" stroke-width="1.3"/>
<path d="M593.9,139.15 L596.2,142.45 L593.9,145.75 L591.6,142.45Z" fill="none" stroke="#ff10ff" stroke-width="1.3"/>
<path d="M331.6,210.44 L346.17,210.39 L360.74,209.26 L375.32,207.32 L389.89,204.45 L404.46,200.76 L419.03,195.95 L433.61,190.99 L448.18,185.2 L462.75,178.54 L477.32,170.61 L491.89,162.98 L506.47,155.5 L521.04,146.29 L535.61,138.3 L550.18,130.31 L564.76,124.12 L579.33,119.41 L593.9,118.38" fill="none" stroke="#1e8a1e" stroke-width="1.7" stroke-linejoin="round"/>
<path d="M331.6,207.14 L333.9,210.44 L331.6,213.74 L329.3,210.44Z" fill="none" stroke="#1e8a1e" stroke-width="1.3"/>
<path d="M346.17,207.09 L348.47,210.39 L346.17,213.69 L343.87,210.39Z" fill="none" stroke="#1e8a1e" stroke-width="1.3"/>
<path d="M360.74,205.96 L363.04,209.26 L360.74,212.56 L358.44,209.26Z" fill="none" stroke="#1e8a1e" stroke-width="1.3"/>
<path d="M375.32,204.02 L377.62,207.32 L375.32,210.62 L373.02,207.32Z" fill="none" stroke="#1e8a1e" stroke-width="1.3"/>
<path d="M389.89,201.15 L392.19,204.45 L389.89,207.75 L387.59,204.45Z" fill="none" stroke="#1e8a1e" stroke-width="1.3"/>
<path d="M404.46,197.46 L406.76,200.76 L404.46,204.06 L402.16,200.76Z" fill="none" stroke="#1e8a1e" stroke-width="1.3"/>
<path d="M419.03,192.65 L421.33,195.95 L419.03,199.25 L416.73,195.95Z" fill="none" stroke="#1e8a1e" stroke-width="1.3"/>
<path d="M433.61,187.69 L435.91,190.99 L433.61,194.29 L431.31,190.99Z" fill="none" stroke="#1e8a1e" stroke-width="1.3"/>
<path d="M448.18,181.9 L450.48,185.2 L448.18,188.5 L445.88,185.2Z" fill="none" stroke="#1e8a1e" stroke-width="1.3"/>
<path d="M462.75,175.24 L465.05,178.54 L462.75,181.84 L460.45,178.54Z" fill="none" stroke="#1e8a1e" stroke-width="1.3"/>
<path d="M477.32,167.31 L479.62,170.61 L477.32,173.91 L475.02,170.61Z" fill="none" stroke="#1e8a1e" stroke-width="1.3"/>
<path d="M491.89,159.68 L494.19,162.98 L491.89,166.28 L489.59,162.98Z" fill="none" stroke="#1e8a1e" stroke-width="1.3"/>
<path d="M506.47,152.2 L508.77,155.5 L506.47,158.8 L504.17,155.5Z" fill="none" stroke="#1e8a1e" stroke-width="1.3"/>
<path d="M521.04,142.99 L523.34,146.29 L521.04,149.59 L518.74,146.29Z" fill="none" stroke="#1e8a1e" stroke-width="1.3"/>
<path d="M535.61,135 L537.91,138.3 L535.61,141.6 L533.31,138.3Z" fill="none" stroke="#1e8a1e" stroke-width="1.3"/>
<path d="M550.18,127.01 L552.48,130.31 L550.18,133.61 L547.88,130.31Z" fill="none" stroke="#1e8a1e" stroke-width="1.3"/>
<path d="M564.76,120.82 L567.06,124.12 L564.76,127.42 L562.46,124.12Z" fill="none" stroke="#1e8a1e" stroke-width="1.3"/>
<path d="M579.33,116.11 L581.63,119.41 L579.33,122.71 L577.03,119.41Z" fill="none" stroke="#1e8a1e" stroke-width="1.3"/>
<path d="M593.9,115.08 L596.2,118.38 L593.9,121.68 L591.6,118.38Z" fill="none" stroke="#1e8a1e" stroke-width="1.3"/>
</g>
<rect x="361.6" y="29.5" width="117.6" height="92" fill="#fff" stroke="#111" stroke-width="1.3"/>
<path d="M361.6,121.5h3.4M479.2,121.5h-3.4M361.6,116.9h2.2M479.2,116.9h-2.2M361.6,112.3h2.2M479.2,112.3h-2.2M361.6,107.7h2.2M479.2,107.7h-2.2M361.6,103.1h2.2M479.2,103.1h-2.2M361.6,98.5h2.2M479.2,98.5h-2.2M361.6,93.9h2.2M479.2,93.9h-2.2M361.6,89.3h2.2M479.2,89.3h-2.2M361.6,84.7h2.2M479.2,84.7h-2.2M361.6,80.1h2.2M479.2,80.1h-2.2M361.6,75.5h3.4M479.2,75.5h-3.4M361.6,70.9h2.2M479.2,70.9h-2.2M361.6,66.3h2.2M479.2,66.3h-2.2M361.6,61.7h2.2M479.2,61.7h-2.2M361.6,57.1h2.2M479.2,57.1h-2.2M361.6,52.5h2.2M479.2,52.5h-2.2M361.6,47.9h2.2M479.2,47.9h-2.2M361.6,43.3h2.2M479.2,43.3h-2.2M361.6,38.7h2.2M479.2,38.7h-2.2M361.6,34.1h2.2M479.2,34.1h-2.2M361.6,29.5h3.4M479.2,29.5h-3.4M361.6,121.5v-3.4M361.6,29.5v3.4M367.48,121.5v-2.2M367.48,29.5v2.2M373.36,121.5v-2.2M373.36,29.5v2.2M379.24,121.5v-2.2M379.24,29.5v2.2M385.12,121.5v-3.4M385.12,29.5v3.4M391,121.5v-2.2M391,29.5v2.2M396.88,121.5v-2.2M396.88,29.5v2.2M402.76,121.5v-2.2M402.76,29.5v2.2M408.64,121.5v-3.4M408.64,29.5v3.4M414.52,121.5v-2.2M414.52,29.5v2.2M420.4,121.5v-2.2M420.4,29.5v2.2M426.28,121.5v-2.2M426.28,29.5v2.2M432.16,121.5v-3.4M432.16,29.5v3.4M438.04,121.5v-2.2M438.04,29.5v2.2M443.92,121.5v-2.2M443.92,29.5v2.2M449.8,121.5v-2.2M449.8,29.5v2.2M455.68,121.5v-3.4M455.68,29.5v3.4M461.56,121.5v-2.2M461.56,29.5v2.2M467.44,121.5v-2.2M467.44,29.5v2.2M473.32,121.5v-2.2M473.32,29.5v2.2M479.2,121.5v-3.4M479.2,29.5v3.4" stroke="#111" stroke-width="1" fill="none"/>
<text x="357.4" y="125.4" font-family='"Liberation Sans", Arial, sans-serif' font-size="10.6" fill="#222" text-anchor="end" font-weight="normal" stroke="#222" stroke-width="0.2">0</text>
<text x="357.4" y="79.4" font-family='"Liberation Sans", Arial, sans-serif' font-size="10.6" fill="#222" text-anchor="end" font-weight="normal" stroke="#222" stroke-width="0.2">10</text>
<text x="357.4" y="33.4" font-family='"Liberation Sans", Arial, sans-serif' font-size="10.6" fill="#222" text-anchor="end" font-weight="normal" stroke="#222" stroke-width="0.2">20</text>
<text x="361.6" y="136.6" font-family='"Liberation Sans", Arial, sans-serif' font-size="10.6" fill="#222" text-anchor="middle" font-weight="normal" stroke="#222" stroke-width="0.2">0</text>
<text x="385.12" y="136.6" font-family='"Liberation Sans", Arial, sans-serif' font-size="10.6" fill="#222" text-anchor="middle" font-weight="normal" stroke="#222" stroke-width="0.2">2</text>
<text x="408.64" y="136.6" font-family='"Liberation Sans", Arial, sans-serif' font-size="10.6" fill="#222" text-anchor="middle" font-weight="normal" stroke="#222" stroke-width="0.2">4</text>
<text x="432.16" y="136.6" font-family='"Liberation Sans", Arial, sans-serif' font-size="10.6" fill="#222" text-anchor="middle" font-weight="normal" stroke="#222" stroke-width="0.2">6</text>
<text x="455.68" y="136.6" font-family='"Liberation Sans", Arial, sans-serif' font-size="10.6" fill="#222" text-anchor="middle" font-weight="normal" stroke="#222" stroke-width="0.2">8</text>
<text x="479.2" y="136.6" font-family='"Liberation Sans", Arial, sans-serif' font-size="10.6" fill="#222" text-anchor="middle" font-weight="normal" stroke="#222" stroke-width="0.2">10</text>
<defs><clipPath id="ci2"><rect x="361.6" y="29.5" width="117.6" height="92"/></clipPath></defs>
<path d="M361.6,118.28 L373.36,118.05 L385.12,117.82 L396.88,117.59 L408.64,117.22 L420.4,116.44 L432.16,114.14 L443.92,112.76 L455.68,106.32 L467.44,98.96 L479.2,87.92 L490.96,59.4" fill="none" stroke="#ff1010" stroke-width="1.7" stroke-linejoin="round" clip-path="url(#ci2)"/>
<circle cx="361.6" cy="118.28" r="2.6" fill="none" stroke="#ff1010" stroke-width="1.25"/>
<circle cx="373.36" cy="118.05" r="2.6" fill="none" stroke="#ff1010" stroke-width="1.25"/>
<circle cx="385.12" cy="117.82" r="2.6" fill="none" stroke="#ff1010" stroke-width="1.25"/>
<circle cx="396.88" cy="117.59" r="2.6" fill="none" stroke="#ff1010" stroke-width="1.25"/>
<circle cx="408.64" cy="117.22" r="2.6" fill="none" stroke="#ff1010" stroke-width="1.25"/>
<circle cx="420.4" cy="116.44" r="2.6" fill="none" stroke="#ff1010" stroke-width="1.25"/>
<circle cx="432.16" cy="114.14" r="2.6" fill="none" stroke="#ff1010" stroke-width="1.25"/>
<circle cx="443.92" cy="112.76" r="2.6" fill="none" stroke="#ff1010" stroke-width="1.25"/>
<circle cx="455.68" cy="106.32" r="2.6" fill="none" stroke="#ff1010" stroke-width="1.25"/>
<circle cx="467.44" cy="98.96" r="2.6" fill="none" stroke="#ff1010" stroke-width="1.25"/>
<circle cx="479.2" cy="87.92" r="2.6" fill="none" stroke="#ff1010" stroke-width="1.25"/>
<path d="M361.6,118.28 L373.36,117.82 L385.12,107.7 L396.88,90.22 L408.64,64.46 L420.4,31.34 L432.16,-11.9 L443.92,-56.52 L455.68,-108.5 L467.44,-169.22 L479.2,-245.58 L490.96,-326.54" fill="none" stroke="#1010ff" stroke-width="1.7" stroke-linejoin="round" clip-path="url(#ci2)"/>
<circle cx="361.6" cy="118.28" r="2.6" fill="none" stroke="#1010ff" stroke-width="1.25"/>
<circle cx="373.36" cy="117.82" r="2.6" fill="none" stroke="#1010ff" stroke-width="1.25"/>
<circle cx="385.12" cy="107.7" r="2.6" fill="none" stroke="#1010ff" stroke-width="1.25"/>
<circle cx="396.88" cy="90.22" r="2.6" fill="none" stroke="#1010ff" stroke-width="1.25"/>
<circle cx="408.64" cy="64.46" r="2.6" fill="none" stroke="#1010ff" stroke-width="1.25"/>
<circle cx="420.4" cy="31.34" r="2.6" fill="none" stroke="#1010ff" stroke-width="1.25"/>
<path d="M361.6,118.28 L373.36,118.05 L385.12,117.82 L396.88,117.59 L408.64,117.22 L420.4,116.44 L432.16,116.44 L443.92,112.76 L455.68,106.78 L467.44,99.42 L479.2,89.3 L490.96,52.96" fill="none" stroke="#ff10ff" stroke-width="1.7" stroke-linejoin="round" clip-path="url(#ci2)"/>
<path d="M361.6,114.98 L363.9,118.28 L361.6,121.58 L359.3,118.28Z" fill="none" stroke="#ff10ff" stroke-width="1.3"/>
<path d="M373.36,114.75 L375.66,118.05 L373.36,121.35 L371.06,118.05Z" fill="none" stroke="#ff10ff" stroke-width="1.3"/>
<path d="M385.12,114.52 L387.42,117.82 L385.12,121.12 L382.82,117.82Z" fill="none" stroke="#ff10ff" stroke-width="1.3"/>
<path d="M396.88,114.29 L399.18,117.59 L396.88,120.89 L394.58,117.59Z" fill="none" stroke="#ff10ff" stroke-width="1.3"/>
<path d="M408.64,113.92 L410.94,117.22 L408.64,120.52 L406.34,117.22Z" fill="none" stroke="#ff10ff" stroke-width="1.3"/>
<path d="M420.4,113.14 L422.7,116.44 L420.4,119.74 L418.1,116.44Z" fill="none" stroke="#ff10ff" stroke-width="1.3"/>
<path d="M432.16,113.14 L434.46,116.44 L432.16,119.74 L429.86,116.44Z" fill="none" stroke="#ff10ff" stroke-width="1.3"/>
<path d="M443.92,109.46 L446.22,112.76 L443.92,116.06 L441.62,112.76Z" fill="none" stroke="#ff10ff" stroke-width="1.3"/>
<path d="M455.68,103.48 L457.98,106.78 L455.68,110.08 L453.38,106.78Z" fill="none" stroke="#ff10ff" stroke-width="1.3"/>
<path d="M467.44,96.12 L469.74,99.42 L467.44,102.72 L465.14,99.42Z" fill="none" stroke="#ff10ff" stroke-width="1.3"/>
<path d="M479.2,86 L481.5,89.3 L479.2,92.6 L476.9,89.3Z" fill="none" stroke="#ff10ff" stroke-width="1.3"/>
<path d="M361.6,118.28 L373.36,117.82 L385.12,107.7 L396.88,90.22 L408.64,64.46 L420.4,31.34 L432.16,-11.9 L443.92,-56.52 L455.68,-108.5 L467.44,-168.3 L479.2,-239.6 L490.96,-308.14" fill="none" stroke="#1e8a1e" stroke-width="1.7" stroke-linejoin="round" clip-path="url(#ci2)"/>
<path d="M361.6,114.98 L363.9,118.28 L361.6,121.58 L359.3,118.28Z" fill="none" stroke="#1e8a1e" stroke-width="1.3"/>
<path d="M373.36,114.52 L375.66,117.82 L373.36,121.12 L371.06,117.82Z" fill="none" stroke="#1e8a1e" stroke-width="1.3"/>
<path d="M385.12,104.4 L387.42,107.7 L385.12,111 L382.82,107.7Z" fill="none" stroke="#1e8a1e" stroke-width="1.3"/>
<path d="M396.88,86.92 L399.18,90.22 L396.88,93.52 L394.58,90.22Z" fill="none" stroke="#1e8a1e" stroke-width="1.3"/>
<path d="M408.64,61.16 L410.94,64.46 L408.64,67.76 L406.34,64.46Z" fill="none" stroke="#1e8a1e" stroke-width="1.3"/>
<path d="M420.4,28.04 L422.7,31.34 L420.4,34.64 L418.1,31.34Z" fill="none" stroke="#1e8a1e" stroke-width="1.3"/>
<text x="443.2" y="60.8" font-family='"Liberation Sans", Arial, sans-serif' font-size="9" fill="#222" text-anchor="start" font-weight="normal" stroke="#222" stroke-width="0.2">SPSM</text>
<text x="443.6" y="83.8" font-family='"Liberation Sans", Arial, sans-serif' font-size="9" fill="#222" text-anchor="start" font-weight="normal" stroke="#222" stroke-width="0.2">TPSM</text>
<line x1="443" y1="56.8" x2="409" y2="69.2" stroke="#000" stroke-width="1.3"/>
<path d="M407.2,69.9 L410.9,64.9 L410.6,68 L413.3,69.6Z" fill="#000" stroke="#000" stroke-width="0.8" stroke-linejoin="miter"/>
<line x1="451.2" y1="86.6" x2="437" y2="112.8" stroke="#000" stroke-width="1.3"/>
<path d="M441.84,111.11 L436.6,113.6 L435.85,107.85" fill="none" stroke="#000" stroke-width="1.9" stroke-linejoin="miter" stroke-linecap="butt"/>
<rect x="485.6" y="11.6" width="86" height="45.8" fill="#fff" stroke="#222" stroke-width="1.1"/>
<line x1="488.2" y1="18.4" x2="507.6" y2="18.4" stroke="#ff1010" stroke-width="1.6"/>
<circle cx="498" cy="18.4" r="2.5" fill="none" stroke="#ff1010" stroke-width="1.1"/>
<text x="509" y="21.3" font-family='"Liberation Sans", Arial, sans-serif' font-size="8" fill="#222" text-anchor="start" font-weight="normal" stroke="#222" stroke-width="0.25">TPSM cusp</text>
<line x1="488.2" y1="29.2" x2="507.6" y2="29.2" stroke="#1010ff" stroke-width="1.6"/>
<circle cx="498" cy="29.2" r="2.5" fill="none" stroke="#1010ff" stroke-width="1.1"/>
<text x="509" y="32.1" font-family='"Liberation Sans", Arial, sans-serif' font-size="8" fill="#222" text-anchor="start" font-weight="normal" stroke="#222" stroke-width="0.25">SPSM cusp</text>
<line x1="488.2" y1="40" x2="507.6" y2="40" stroke="#ff10ff" stroke-width="1.6"/>
<path d="M498,36.7 L500.2,40 L498,43.3 L495.8,40Z" fill="none" stroke="#ff10ff" stroke-width="1.1"/>
<text x="509" y="42.9" font-family='"Liberation Sans", Arial, sans-serif' font-size="8" fill="#222" text-anchor="start" font-weight="normal" stroke="#222" stroke-width="0.25">TPSM non-cusp</text>
<line x1="488.2" y1="50.8" x2="507.6" y2="50.8" stroke="#1e8a1e" stroke-width="1.6"/>
<path d="M498,47.5 L500.2,50.8 L498,54.1 L495.8,50.8Z" fill="none" stroke="#1e8a1e" stroke-width="1.1"/>
<text x="509" y="53.7" font-family='"Liberation Sans", Arial, sans-serif' font-size="8" fill="#222" text-anchor="start" font-weight="normal" stroke="#222" stroke-width="0.25">SPSM non-cusp</text>
</svg>
</body></html>
